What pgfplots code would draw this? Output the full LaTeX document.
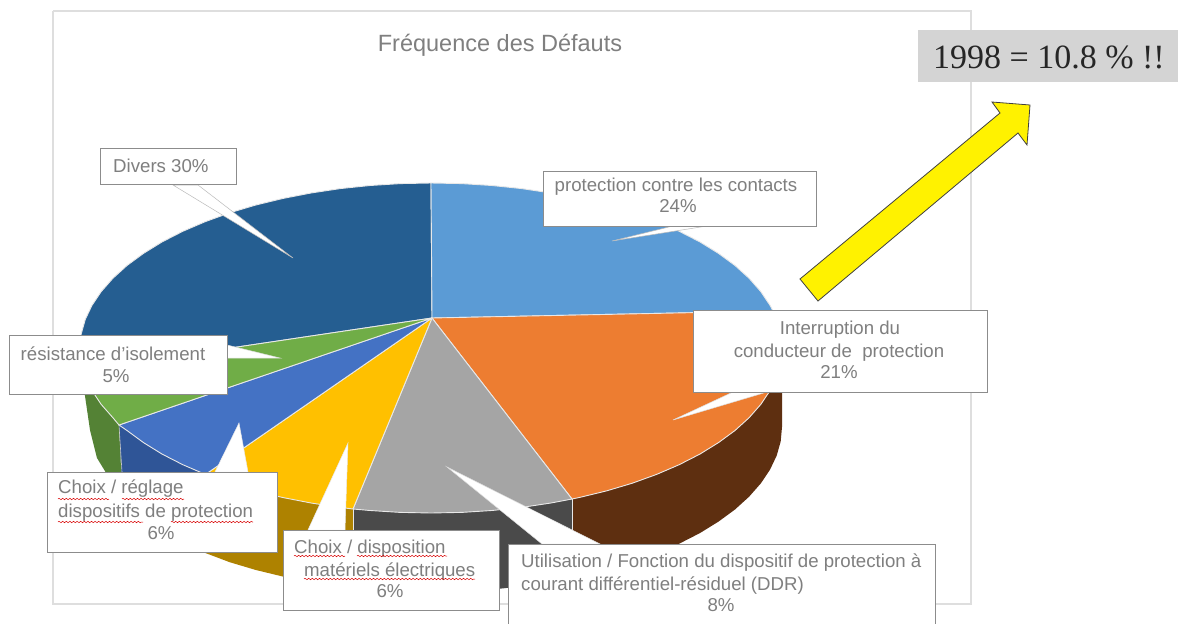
\documentclass[border=0pt]{standalone}
\usepackage{pgfplots}
\pgfplotsset{compat=1.18}
\usepackage{fontspec}
\setmainfont{Liberation Sans}
\newfontfamily\timesf{Liberation Serif}
\usetikzlibrary{decorations.pathmorphing}
\definecolor{cBlue}{HTML}{5B9BD5}
\definecolor{cOrange}{HTML}{ED7D31}
\definecolor{cGray}{HTML}{A5A5A5}
\definecolor{cYellow}{HTML}{FFC000}
\definecolor{cMid}{HTML}{4472C4}
\definecolor{cGreen}{HTML}{70AD47}
\definecolor{cNavy}{HTML}{255E91}
\definecolor{sBrown}{HTML}{5E2F10}
\definecolor{sGray}{HTML}{4A4A4A}
\definecolor{sGold}{HTML}{AE8200}
\definecolor{sBlue}{HTML}{2F5597}
\definecolor{sGreen}{HTML}{548235}
\definecolor{txt}{HTML}{7F7F7F}
\definecolor{edge}{HTML}{8C8C8C}
\definecolor{frame}{HTML}{DEDEDE}
\definecolor{rim}{HTML}{E8E8E8}
\pgfplotsset{
  slice/.style={fill=#1,draw=rim,line width=0.9pt,line join=round,forget plot},
  side/.style={fill=#1,draw=none,forget plot},
  tail/.style={fill=white,draw=#1,line width=0.5pt,forget plot},
  box/.style={fill=white,draw=edge,line width=1pt,forget plot},
}
\newcommand{\wavy}[3]{\draw[red!85!black,line width=0.5pt,decorate,decoration={snake,amplitude=0.7pt,segment length=3.6pt}] (axis cs:#1,#3) -- (axis cs:#2,#3);}
\begin{document}
\begin{tikzpicture}
\path[use as bounding box] (0,0) rectangle (1179pt,624pt);
\begin{axis}[
  hide axis, scale only axis, width=1179pt, height=624pt,
  xmin=0, xmax=1179, ymin=0, ymax=624, y dir=reverse,
  clip=true,
]
% chart frame
\addplot[draw=frame,line width=1.2pt,fill=white,forget plot] coordinates {(53,11) (971,11) (971,604) (53,604) (53,11)};
% side walls
\addplot[side=sBrown] coordinates {(782,348) (780.7,362.4) (776.7,376.6) (770,390.7) (760.8,404.4) (749.1,417.7) (735,430.5) (718.5,442.6) (699.9,454.1) (679.2,464.7) (656.6,474.4) (632.3,483.2) (606.5,490.9) (579.3,497.5) (572,499)
 (572,578) (579.3,576.5) (606.5,569.9) (632.3,562.2) (656.6,553.4) (679.2,543.7) (699.9,533.1) (718.5,521.6) (735,509.5) (749.1,496.7) (760.8,483.4) (770,469.7) (776.7,455.6) (780.7,441.4) (782,427)} -- cycle;
\addplot[side=sGray] coordinates {(572,499) (551,503) (521.8,507.4) (491.9,510.5) (461.6,512.4) (431,513) (400.4,512.4) (370.1,510.5) (353,509)
 (353,588) (370.1,589.5) (400.4,591.4) (431,592) (461.6,591.4) (491.9,589.5) (521.8,586.4) (551,582) (572,578)} -- cycle;
\addplot[side=sGold] coordinates {(353,509) (340.2,507.4) (311,503) (282.7,497.5) (255.5,490.9) (229.7,483.2) (205.4,474.4)
 (205.4,553) (229.7,562.2) (255.5,569.9) (282.7,576.5) (311,582) (340.2,586.4) (353,588)} -- cycle;
\addplot[side=sBlue] coordinates {(205.4,474.4) (182.8,464.7) (162.1,454.1) (143.5,442.6) (127,430.5) (119,425)
 (122,490) (145,518) (180,540) (205.4,553)} -- cycle;
\addplot[side=sGreen] coordinates {(119,425) (112.9,417.7) (101.2,404.4) (92,390.7) (85.3,376.6) (83,370)
 (85,396) (90,430) (97,458) (108,476) (122,490)} -- cycle;
% vertical seams
\addplot[draw=rim,line width=0.8pt,forget plot] coordinates {(572,499) (572,535)};
\addplot[draw=rim,line width=0.8pt,forget plot] coordinates {(353,509) (353,530)};
\addplot[draw=rim!70!gray,line width=0.6pt,forget plot] coordinates {(119,425) (122,472)};
% top slices
\addplot[slice=cNavy] coordinates {(432,318) (83,370) (81.3,362.4) (80,348) (81.3,333.6) (85.3,319.4) (92,305.3) (101.2,291.6) (112.9,278.3) (127,265.5) (143.5,253.4) (162.1,241.9) (182.8,231.3) (205.4,221.6) (229.7,212.8) (255.5,205.1) (282.7,198.5) (311,193) (340.2,188.6) (370.1,185.5) (400.4,183.6) (431,183)} -- cycle;
\addplot[slice=cBlue] coordinates {(432,318) (431,183) (461.6,183.6) (491.9,185.5) (521.8,188.6) (551,193) (579.3,198.5) (606.5,205.1) (632.3,212.8) (656.6,221.6) (679.2,231.3) (699.9,241.9) (718.5,253.4) (735,265.5) (749.1,278.3) (760.8,291.6) (770,305.3) (773,311)} -- cycle;
\addplot[slice=cOrange] coordinates {(432,318) (773,311) (776.7,319.4) (780.7,333.6) (782,348) (780.7,362.4) (776.7,376.6) (770,390.7) (760.8,404.4) (749.1,417.7) (735,430.5) (718.5,442.6) (699.9,454.1) (679.2,464.7) (656.6,474.4) (632.3,483.2) (606.5,490.9) (579.3,497.5) (572,499)} -- cycle;
\addplot[slice=cGray] coordinates {(432,318) (572,499) (551,503) (521.8,507.4) (491.9,510.5) (461.6,512.4) (431,513) (400.4,512.4) (370.1,510.5) (353,509)} -- cycle;
\addplot[slice=cYellow] coordinates {(432,318) (353,509) (340.2,507.4) (311,503) (282.7,497.5) (255.5,490.9) (229.7,483.2) (205.4,474.4)} -- cycle;
\addplot[slice=cMid] coordinates {(432,318) (205.4,474.4) (182.8,464.7) (162.1,454.1) (143.5,442.6) (127,430.5) (119,425)} -- cycle;
\addplot[slice=cGreen] coordinates {(432,318) (119,425) (112.9,417.7) (101.2,404.4) (92,390.7) (85.3,376.6) (83,370)} -- cycle;
% callout tails
\addplot[tail=edge!60] coordinates {(173,185) (198,185) (293,258)} -- cycle;
\addplot[tail=edge!60] coordinates {(673,226) (707,226) (612,241)} -- cycle;
\addplot[tail=edge!30] coordinates {(733,392) (767,392) (673,420)} -- cycle;
\addplot[tail=edge!30] coordinates {(542,544) (600,544) (447,467)} -- cycle;
\addplot[tail=edge!30] coordinates {(227,345) (227,358) (280,358)} -- cycle;
\addplot[tail=edge!20] coordinates {(215,472) (248,472) (239,423)} -- cycle;
\addplot[tail=edge!20] coordinates {(308,530) (345,530) (348,443)} -- cycle;
% arrow
\addplot[fill=yellow,draw=black!75,line width=0.8pt,forget plot] coordinates {(800,279) (818,301) (1018,133) (1027,145) (1030,105) (992,102) (1000,113)} -- cycle;
% grey tag
\addplot[fill=black!17,draw=none,forget plot] coordinates {(918,30) (1178,30) (1178,82) (918,82)} -- cycle;
% label boxes
\addplot[box] coordinates {(100,148) (236,148) (236,184) (100,184)} -- cycle;
\addplot[box] coordinates {(543,171) (816,171) (816,226) (543,226)} -- cycle;
\addplot[box] coordinates {(693,310) (987,310) (987,392) (693,392)} -- cycle;
\addplot[box] coordinates {(508,544) (935,544) (935,640) (508,640)} -- cycle;
\addplot[box] coordinates {(9,335) (227,335) (227,394) (9,394)} -- cycle;
\addplot[box] coordinates {(47,472) (277,472) (277,552) (47,552)} -- cycle;
\addplot[box] coordinates {(283,530) (499,530) (499,610) (283,610)} -- cycle;
% texts
\node[text=txt,anchor=center,font=\fontsize{23.5}{26}\selectfont] at (axis cs:500,45) {Fréquence des Défauts};
\node[text=black!85,anchor=center,font=\timesf\fontsize{34}{38}\selectfont] at (axis cs:1049,57) {1998 = 10.8 \% !!};
\begin{scope}[every node/.style={text=txt,inner sep=0pt,font=\fontsize{18.65}{20}\selectfont}]
\node[anchor=west] at (axis cs:113,166) {Divers 30\%};
\node at (axis cs:676,187) {protection contre les contacts};
\node at (axis cs:678,206) {24\%};
\node at (axis cs:840,330) {Interruption du};
\node at (axis cs:839,353) {conducteur de\ \ protection};
\node at (axis cs:839,372) {21\%};
\node[anchor=west] at (axis cs:521,563) {Utilisation / Fonction du dispositif de protection à};
\node[anchor=west] at (axis cs:521,586) {courant différentiel-résiduel (DDR)};
\node at (axis cs:721,605) {8\%};
\node at (axis cs:113,354) {résistance d'isolement};
\node at (axis cs:116,376) {5\%};
\node[anchor=west] at (axis cs:58,489) {Choix / réglage};
\node[anchor=west] at (axis cs:58,513) {dispositifs de protection};
\node at (axis cs:161,533) {6\%};
\node[anchor=west] at (axis cs:294,549) {Choix / disposition};
\node[anchor=west] at (axis cs:304,572) {matériels électriques};
\node at (axis cs:390,591) {6\%};
\end{scope}
\wavy{58}{109}{499}
\wavy{122}{184}{499}
\wavy{58}{143}{522}
\wavy{171}{253}{522}
\wavy{294}{345}{556}
\wavy{357}{447}{556}
\wavy{304}{475}{579}
\end{axis}
\end{tikzpicture}
\end{document}
